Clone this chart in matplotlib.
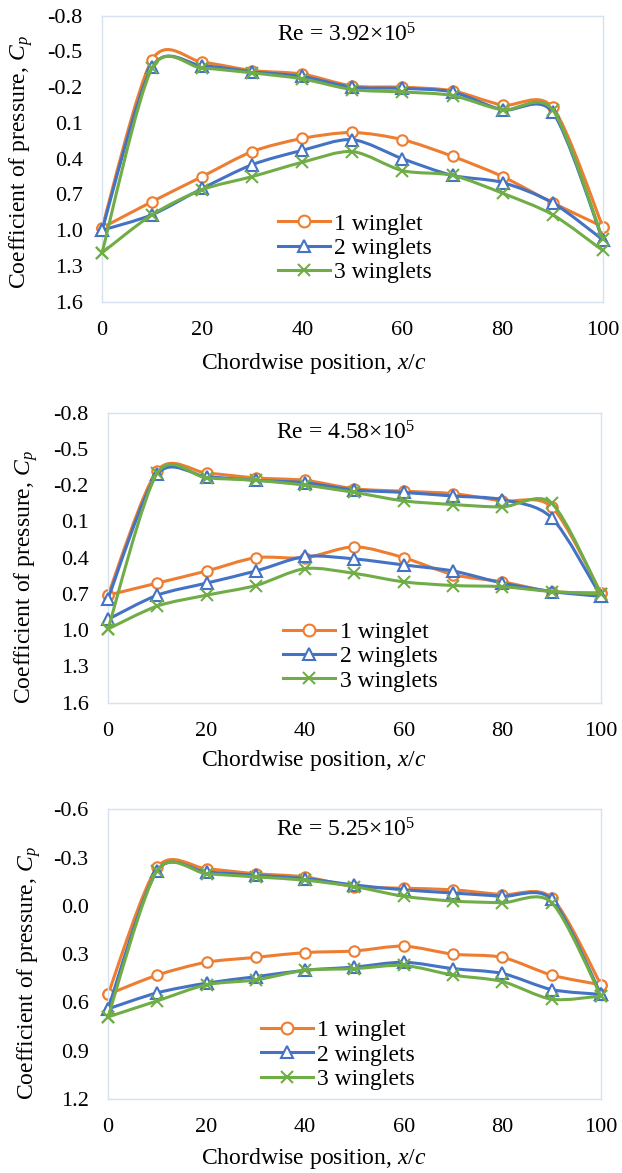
import numpy as np
import matplotlib
matplotlib.use("Agg")
import matplotlib.pyplot as plt
from matplotlib.path import Path
from matplotlib.patches import PathPatch
from matplotlib.lines import Line2D

plt.rcParams['font.family'] = ['Liberation Serif', 'DejaVu Serif']
plt.rcParams['mathtext.fontset'] = 'custom'
plt.rcParams['mathtext.rm'] = 'Liberation Serif'
plt.rcParams['mathtext.it'] = 'Liberation Serif:italic'
plt.rcParams['axes.unicode_minus'] = False

# chordwise positions (% of chord)
x_pos = [0, 10, 20, 30, 40, 50, 60, 70, 80, 90, 100]

series_names = ['1 winglet', '2 winglets', '3 winglets']
re_labels = ['Re = 3.92×10$^{5}$', 'Re = 4.58×10$^{5}$', 'Re = 5.25×10$^{5}$']

# Re = 3.92e5
up_1w_a = [0.98, -0.43, -0.41, -0.34, -0.31, -0.21, -0.20, -0.17, -0.05, -0.03, 0.97]
lo_1w_a = [0.98, 0.76, 0.55, 0.34, 0.23, 0.18, 0.24, 0.38, 0.55, 0.77, 0.97]
up_2w_a = [1.00, -0.37, -0.38, -0.33, -0.29, -0.20, -0.19, -0.16, -0.01, 0.01, 1.08]
lo_2w_a = [1.00, 0.87, 0.65, 0.45, 0.33, 0.24, 0.40, 0.54, 0.60, 0.77, 1.08]
up_3w_a = [1.19, -0.36, -0.36, -0.32, -0.27, -0.18, -0.16, -0.13, -0.01, -0.01, 1.07]
lo_3w_a = [1.19, 0.87, 0.66, 0.55, 0.43, 0.34, 0.50, 0.54, 0.69, 0.87, 1.17]

# Re = 4.58e5
up_1w_b = [0.71, -0.32, -0.30, -0.26, -0.24, -0.17, -0.15, -0.13, -0.07, -0.02, 0.69]
lo_1w_b = [0.71, 0.61, 0.51, 0.40, 0.40, 0.31, 0.40, 0.54, 0.60, 0.68, 0.69]
up_2w_b = [0.74, -0.29, -0.27, -0.24, -0.22, -0.16, -0.14, -0.11, -0.08, 0.07, 0.72]
lo_2w_b = [0.91, 0.71, 0.61, 0.51, 0.39, 0.41, 0.46, 0.51, 0.61, 0.68, 0.72]
up_3w_b = [0.99, -0.30, -0.26, -0.24, -0.20, -0.14, -0.07, -0.04, -0.02, -0.05, 0.70]
lo_3w_b = [0.99, 0.80, 0.71, 0.63, 0.49, 0.53, 0.60, 0.63, 0.64, 0.68, 0.70]

# Re = 5.25e5
up_1w_c = [0.55, -0.24, -0.23, -0.20, -0.18, -0.12, -0.11, -0.10, -0.07, -0.05, 0.49]
lo_1w_c = [0.55, 0.43, 0.35, 0.32, 0.29, 0.28, 0.25, 0.30, 0.32, 0.43, 0.49]
up_2w_c = [0.64, -0.22, -0.21, -0.19, -0.17, -0.13, -0.10, -0.08, -0.06, -0.04, 0.55]
lo_2w_c = [0.64, 0.54, 0.48, 0.44, 0.40, 0.38, 0.35, 0.39, 0.42, 0.52, 0.55]
up_3w_c = [0.69, -0.22, -0.20, -0.18, -0.16, -0.12, -0.06, -0.03, -0.02, -0.02, 0.56]
lo_3w_c = [0.69, 0.59, 0.49, 0.46, 0.40, 0.39, 0.37, 0.43, 0.47, 0.58, 0.56]

yticks_ab = [-0.8, -0.5, -0.2, 0.1, 0.4, 0.7, 1.0, 1.3, 1.6]
yticks_c = [-0.6, -0.3, 0.0, 0.3, 0.6, 0.9, 1.2]
xticks = [0, 20, 40, 60, 80, 100]

colors = ['#ED7D31', '#4472C4', '#70AD47']
markers = ['o', '^', 'x']
msizes = [7.5, 8, 8]


def smooth_path(x, y, k=1 / 7):
    """Excel-like smoothed line (Catmull-Rom style cubic Bezier)."""
    pts = np.column_stack([x, y]).astype(float)
    n = len(pts)
    verts = [pts[0]]
    codes = [Path.MOVETO]
    for i in range(n - 1):
        p0 = pts[i - 1] if i > 0 else pts[i]
        p1 = pts[i]
        p2 = pts[i + 1]
        p3 = pts[i + 2] if i + 2 < n else pts[i + 1]
        verts += [p1 + (p2 - p0) * k, p2 - (p3 - p1) * k, p2]
        codes += [Path.CURVE4] * 3
    return Path(verts, codes)


panels = [
    dict(rect=[0.164, 0.7428, 0.805, 0.2438], yticks=yticks_ab,
         data=[(up_1w_a, lo_1w_a), (up_2w_a, lo_2w_a), (up_3w_a, lo_3w_a)],
         ylab=(-0.134, 0.488), xlab=(0.423, 8), leg=(0.351, 0.187), re=(0.489, 0.933)),
    dict(rect=[0.1736, 0.4009, 0.7926, 0.2473], yticks=yticks_ab,
         data=[(up_1w_b, lo_1w_b), (up_2w_b, lo_2w_b), (up_3w_b, lo_3w_b)],
         ylab=(-0.138, 0.434), xlab=(0.418, 5), leg=(0.355, 0.159), re=(0.483, 0.93)),
    dict(rect=[0.1736, 0.0631, 0.7926, 0.2469], yticks=yticks_c,
         data=[(up_1w_c, lo_1w_c), (up_2w_c, lo_2w_c), (up_3w_c, lo_3w_c)],
         ylab=(-0.131, 0.435), xlab=(0.418, 6), leg=(0.31, 0.152), re=(0.483, 0.929)),
]

fig = plt.figure(figsize=(6.22, 11.73), dpi=100)

for k, p in enumerate(panels):
    ax = fig.add_axes(p['rect'])
    for j, (up, lo) in enumerate(p['data']):
        for surf in (lo, up):
            patch = PathPatch(smooth_path(x_pos, surf), fill=False, edgecolor=colors[j],
                              lw=2.2, zorder=2 + j, clip_on=False, capstyle='round')
            ax.add_patch(patch)
            ax.plot(x_pos, surf, ls='none', marker=markers[j], ms=msizes[j],
                    mfc='white' if markers[j] != 'x' else colors[j], mec=colors[j],
                    mew=1.5, zorder=2.5 + j, clip_on=False)

    ax.set_xlim(0, 100)
    ax.set_ylim(p['yticks'][-1], p['yticks'][0])
    ax.set_xticks(xticks)
    ax.set_yticks(p['yticks'])
    ax.yaxis.set_major_formatter(matplotlib.ticker.FormatStrFormatter('%.1f'))
    ax.tick_params(length=0, labelsize=16)
    ax.tick_params(axis='y', pad=14)
    ax.tick_params(axis='x', pad=14)
    for s in ax.spines.values():
        s.set_color('#D6E2F2')
        s.set_linewidth(1.0)

    ax.set_ylabel('Coefficient of pressure, $C_p$', fontsize=17)
    ax.yaxis.set_label_coords(*p['ylab'])
    ax.set_xlabel('Chordwise position, $x/c$', fontsize=17, labelpad=p['xlab'][1])
    ax.xaxis.label.set_x(p['xlab'][0])

    ax.text(p['re'][0], p['re'][1], re_labels[k], transform=ax.transAxes,
            ha='center', va='center', fontsize=17)

    handles = [Line2D([], [], color=colors[j], lw=2.2, marker=markers[j], ms=msizes[j] + 1,
                      mfc='white' if markers[j] != 'x' else colors[j], mec=colors[j], mew=1.5)
               for j in range(3)]
    ax.legend(handles, series_names, loc='center left', bbox_to_anchor=p['leg'],
              frameon=False, fontsize=17, borderpad=0, borderaxespad=0,
              handlelength=2.2, handletextpad=0.2, labelspacing=0.12)

fig.savefig('out.png', dpi=100)
